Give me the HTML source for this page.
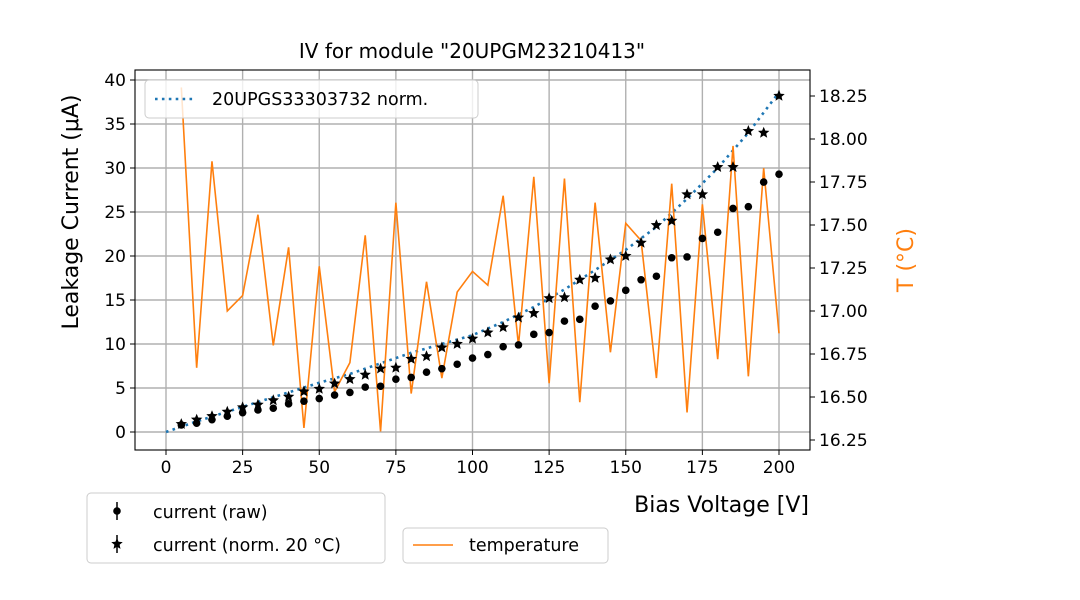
<!DOCTYPE html>
<html><head><meta charset="utf-8"><style>body{margin:0;background:#fff}svg{display:block;font-family:"DejaVu Sans","Liberation Sans",sans-serif}</style></head>
<body>
<svg id="c" width="1080" height="600" viewBox="0 0 1080 600"></svg>
<script>
const voltages=[5,10,15,20,25,30,35,40,45,50,55,60,65,70,75,80,85,90,95,100,105,110,115,120,125,130,135,140,145,150,155,160,165,170,175,180,185,190,195,200];
const rawCurrent=[0.8,1.0,1.4,1.8,2.2,2.5,2.7,3.2,3.5,3.8,4.2,4.5,5.1,5.2,6.0,6.2,6.8,7.2,7.7,8.4,8.8,9.7,9.9,11.1,11.3,12.6,12.8,14.3,14.9,16.1,17.3,17.7,19.8,19.9,22.0,22.7,25.4,25.6,28.4,29.3];
const normCurrent=[0.9,1.4,1.8,2.3,2.8,3.1,3.6,4.0,4.6,4.9,5.5,6.0,6.5,7.2,7.3,8.3,8.6,9.6,10.0,10.6,11.3,11.9,13.0,13.5,15.2,15.3,17.3,17.5,19.6,20.0,21.5,23.5,24.0,27.0,27.0,30.1,30.1,34.2,34.0,38.2];
const temperature=[18.30,16.67,17.87,17.0,17.09,17.56,16.80,17.37,16.32,17.26,16.53,16.70,17.44,16.30,17.63,16.52,17.17,16.61,17.11,17.23,17.15,17.67,16.80,17.78,16.58,17.77,16.47,17.63,16.76,17.51,17.41,16.61,17.74,16.41,17.62,16.72,17.96,16.62,17.83,16.87];
const refVoltages=[0,10,20,30,40,50,60,70,80,90,100,110,120,130,140,150,160,170,180,190,200];
const refCurrent=[0,1.2,2.3,3.4,4.5,5.6,6.6,7.8,9.0,10.0,11.0,12.5,14.2,16.2,18.4,20.7,23.3,26.5,30.0,34.0,38.6];
const xTicks=[0,25,50,75,100,125,150,175,200];
const yTicks=[0,5,10,15,20,25,30,35,40];
const tTicks=[16.25,16.5,16.75,17.0,17.25,17.5,17.75,18.0,18.25];

const L=135,R=810,T=70,B=450;
const X=v=>166+(v-0)*(779-166)/200;
const Y=c=>432-c*8.8;
const TY=t=>440-(t-16.25)*172;
const svg=document.getElementById('c');const NS='http://www.w3.org/2000/svg';
function mk(tag,attrs,parent){const e=document.createElementNS(NS,tag);for(const k in attrs)e.setAttribute(k,attrs[k]);(parent||svg).appendChild(e);return e;}
function txt(s,attrs,parent){const e=mk('text',attrs,parent);e.textContent=s;return e;}

const grid=mk('g',{});
xTicks.forEach(v=>{mk('line',{x1:X(v),x2:X(v),y1:T,y2:B,stroke:'#b0b0b0','stroke-width':1.4},grid);});
yTicks.forEach(v=>{mk('line',{x1:L,x2:R,y1:Y(v),y2:Y(v),stroke:'#b0b0b0','stroke-width':1.4},grid);});

const xa=mk('g',{});
xTicks.forEach(v=>{mk('line',{x1:X(v),x2:X(v),y1:B,y2:B+5,stroke:'#000'},xa);const t=txt(String(v),{x:X(v),y:B+23,'text-anchor':'middle','font-size':17},xa);});
const ya=mk('g',{});
yTicks.forEach(v=>{mk('line',{x1:L-5,x2:L,y1:Y(v),y2:Y(v),stroke:'#000'},ya);const t=txt(String(v),{x:L-9,y:Y(v)+6,'text-anchor':'end','font-size':17},ya);});
const ta=mk('g',{});
tTicks.forEach(v=>{mk('line',{x1:R,x2:R+5,y1:TY(v),y2:TY(v),stroke:'#000'},ta);const t=txt(v.toFixed(2),{x:R+9,y:TY(v)+6,'font-size':17},ta);});

const rp=mk('polyline',{points:refVoltages.map((v,i)=>X(v)+','+Y(refCurrent[i])).join(' '),fill:'none',stroke:'#1f77b4','stroke-width':2.6,'stroke-dasharray':'2.6 4.3'});


const tp=mk('polyline',{points:voltages.map((v,i)=>X(v)+','+TY(temperature[i])).join(' '),fill:'none',stroke:'#ff7f0e','stroke-width':1.6});


function star(cx,cy,r,parent){let p=[];for(let i=0;i<10;i++){const a=-Math.PI/2+i*Math.PI/5;const rr=i%2?r*0.45:r;p.push((cx+rr*Math.cos(a)).toFixed(1)+','+(cy+rr*Math.sin(a)).toFixed(1));}return mk('polygon',{points:p.join(' '),fill:'#000'},parent);}
const rg=mk('g',{});
voltages.forEach((v,i)=>{const c=mk('circle',{cx:X(v),cy:Y(rawCurrent[i]),r:3.8,fill:'#000'},rg);});
const ng=mk('g',{});
voltages.forEach((v,i)=>{const s=star(X(v),Y(normCurrent[i]),6,ng);});

mk('rect',{x:L,y:T,width:R-L,height:B-T,fill:'none',stroke:'#000','stroke-width':1.1});

txt('IV for module "20UPGM23210413"',{x:472,y:58,'text-anchor':'middle','font-size':20,});
txt('Bias Voltage [V]',{x:809,y:512,'text-anchor':'end','font-size':22,});
txt('Leakage Current (μA)',{x:0,y:0,'text-anchor':'middle','font-size':22,transform:'translate(78,212) rotate(-90)',});
txt('T (°C)',{x:0,y:0,'text-anchor':'middle','font-size':22,fill:'#ff7f0e',transform:'translate(913,260) rotate(-90)',});

const lg1=mk('g',{});
mk('rect',{x:145,y:80,width:333,height:38,rx:4,fill:'#fff','fill-opacity':0.8,stroke:'#ccc'},lg1);
mk('line',{x1:155,x2:195,y1:99,y2:99,stroke:'#1f77b4','stroke-width':2.6,'stroke-dasharray':'2.6 4.3'},lg1);
txt('20UPGS33303732 norm.',{x:212,y:105,'font-size':17.5},lg1);
const lg2=mk('g',{});
mk('rect',{x:87,y:493,width:298,height:70,rx:4,fill:'#fff',stroke:'#ccc'},lg2);
mk('line',{x1:117,x2:117,y1:502,y2:520,stroke:'#000','stroke-width':1.5},lg2);
mk('circle',{cx:117,cy:511,r:3.8,fill:'#000'},lg2);
txt('current (raw)',{x:153,y:518,'font-size':17.5},lg2);
mk('line',{x1:117,x2:117,y1:535,y2:553,stroke:'#000','stroke-width':1.5},lg2);
star(117,544,6,lg2);
txt('current (norm. 20 °C)',{x:153,y:551,'font-size':17.5},lg2);
const lg3=mk('g',{});
mk('rect',{x:403,y:528,width:205,height:35,rx:4,fill:'#fff',stroke:'#ccc'},lg3);
mk('line',{x1:413,x2:453,y1:545,y2:545,stroke:'#ff7f0e','stroke-width':1.6},lg3);
txt('temperature',{x:469,y:551,'font-size':17.5},lg3);
</script>
</body></html>
